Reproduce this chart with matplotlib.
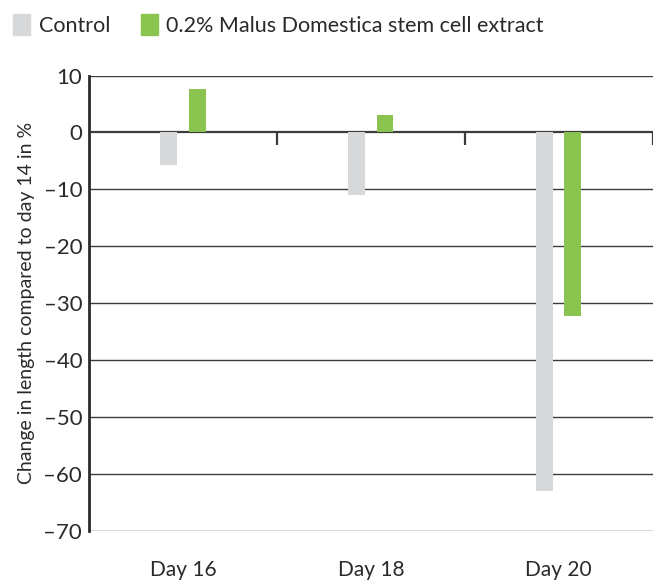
import matplotlib.pyplot as plt
from matplotlib.patches import Patch
import numpy as np

plt.rcParams['font.family'] = ['Lato', 'DejaVu Sans']

days = ['Day 16', 'Day 18', 'Day 20']
control = [-5.8, -11.0, -63.0]
extract = [7.7, 3.0, -32.2]
y_ticks = [10, 0, -10, -20, -30, -40, -50, -60, -70]

gray = '#d7d8da'
green = '#8bc34f'
line_col = '#3c3c3c'
text_col = '#2a2a2a'

fig = plt.figure(figsize=(6.6, 5.81), dpi=100)
ax = fig.add_axes([0.135, 0.0866, 0.854, 0.7834])

x = np.arange(len(days))
w = 0.09
ax.bar(x - 0.075, control, width=w, color=gray, zorder=3)
ax.bar(x + 0.075, extract, width=w, color=green, zorder=3)

ax.set_xlim(-0.5, 2.5)
ax.set_ylim(-70, 10)
ax.set_yticks(y_ticks)
ax.set_yticklabels([str(t).replace('-', '\u2013') for t in y_ticks])
ax.set_xticks(x)
ax.set_xticklabels(days)

# horizontal grid lines
for t in y_ticks:
    lw = 1.6 if t == 0 else 1.0
    ax.axhline(t, color=line_col, lw=lw, zorder=2)
# small ticks hanging from the zero line at category boundaries
ax.vlines([0.5, 1.5, 2.5], -2.2, 0, color=line_col, lw=1.6, zorder=2)

for s in ['top', 'right', 'bottom']:
    ax.spines[s].set_visible(False)
ax.spines['left'].set_linewidth(2)
ax.spines['left'].set_color('#2a2a2a')

ax.tick_params(axis='y', length=0, pad=5, labelsize=16, labelcolor=text_col)
ax.tick_params(axis='x', length=0, pad=21, labelsize=15, labelcolor=text_col)
ax.set_ylabel('Change in length compared to day 14 in %', fontsize=14,
              color=text_col, labelpad=6)

handles = [Patch(color=gray, label='Control'),
           Patch(color=green, label='0.2% Malus Domestica stem cell extract')]
leg = fig.legend(handles=handles, loc='upper left', bbox_to_anchor=(-0.006, 1.005),
                 ncol=2, frameon=False, prop={'size': 15.5},
                 handlelength=0.8, handleheight=1.1, handletextpad=0.4,
                 columnspacing=1.4, borderpad=0.3, labelcolor=text_col)

fig.savefig('out.png', dpi=100)
